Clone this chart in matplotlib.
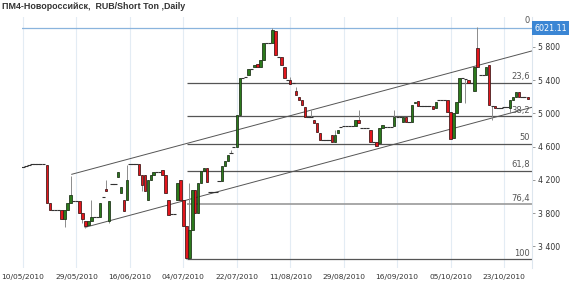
import numpy as np
import matplotlib
matplotlib.use("Agg")
from matplotlib import pyplot as plt
from matplotlib import transforms

# daily candles (RUB/Short Ton)
opens = [4350, 4360, 4375, 4385, 4390, 4390, 4390, 4385, 4380, 3920,
         3840, 3840, 3840, 3840, 3730, 3840, 3920, 3950, 3950, 3950,
         3800, 3700, 3650, 3710, 3750, 3750, 3750, 3990, 4090, 3700,
         4150, 4150, 4230, 4040, 3960, 3960, 4390, 4390, 4390, 4390,
         4260, 4260, 3960, 4200, 4260, 4290, 4290, 4320, 4260, 3960,
         3785, 3785, 3960, 4200, 3960, 3640, 3260, 3600, 4080, 3800,
         4160, 4300, 4340, 4050, 4050, 4050, 4190, 4180, 4360, 4420,
         4520, 4600, 4600, 4980, 5430, 5440, 5460, 5530, 5560, 5590,
         5560, 5640, 5850, 5850, 5850, 5990, 5680, 5680, 5560, 5400,
         5400, 5360, 5270, 5200, 5160, 5080, 4960, 4960, 4920, 4880,
         4760, 4680, 4680, 4680, 4740, 4660, 4760, 4840, 4850, 4850,
         4850, 4850, 4850, 4920, 4820, 4820, 4820, 4800, 4660, 4660,
         4640, 4820, 4840, 4840, 4840, 4850, 4950, 4950, 4900, 4960,
         4900, 4900, 5120, 5150, 5090, 5090, 5090, 5090, 5090, 5060,
         5160, 5160, 5160, 5160, 5010, 4700, 5000, 5140, 5420, 5410,
         5400, 5360, 5270, 5780, 5460, 5460, 5460, 5580, 5090, 5090,
         5060, 5060, 5070, 5070, 5060, 5160, 5200, 5250, 5200, 5200,
         5200]
closes = [4350, 4360, 4375, 4385, 4390, 4390, 4390, 4385, 3920, 3840,
          3840, 3840, 3840, 3730, 3840, 3920, 4020, 3950, 3950, 3800,
          3730, 3640, 3710, 3750, 3750, 3750, 3920, 3990, 4060, 3940,
          4150, 4150, 4290, 4110, 3830, 4200, 4390, 4390, 4390, 4260,
          4140, 4060, 4200, 4260, 4290, 4290, 4290, 4260, 4040, 3780,
          3785, 3785, 4160, 3960, 3640, 3260, 3600, 4080, 3800, 4160,
          4300, 4340, 4170, 4050, 4050, 4050, 4190, 4360, 4420, 4500,
          4520, 4600, 4980, 5430, 5430, 5440, 5530, 5530, 5580, 5560,
          5640, 5850, 5850, 5850, 6000, 5700, 5680, 5580, 5420, 5400,
          5350, 5360, 5220, 5160, 5100, 4950, 4960, 4960, 4880, 4780,
          4680, 4680, 4680, 4680, 4660, 4740, 4800, 4840, 4850, 4850,
          4850, 4850, 4920, 4880, 4820, 4820, 4820, 4660, 4660, 4610,
          4820, 4860, 4840, 4840, 4840, 4960, 4950, 4950, 4960, 4900,
          4900, 5100, 5140, 5090, 5090, 5090, 5090, 5090, 5050, 5140,
          5160, 5160, 5160, 5010, 4690, 5000, 5140, 5420, 5420, 5410,
          5360, 5360, 5560, 5560, 5460, 5460, 5560, 5100, 5090, 5060,
          5060, 5060, 5070, 5070, 5160, 5200, 5250, 5200, 5200, 5200,
          5170]
highs = [4350, 4360, 4375, 4385, 4390, 4390, 4390, 4385, 4380, 3920,
         3840, 3840, 3840, 3840, 3840, 3920, 4250, 3950, 3950, 3950,
         3800, 3700, 3710, 3960, 3750, 3750, 3920, 3990, 4200, 3940,
         4150, 4150, 4290, 4110, 3960, 4380, 4390, 4390, 4390, 4390,
         4260, 4260, 4200, 4260, 4290, 4290, 4290, 4320, 4260, 3960,
         3785, 3785, 4160, 4200, 3960, 3640, 4160, 4080, 4080, 4160,
         4300, 4340, 4340, 4050, 4050, 4050, 4190, 4360, 4420, 4500,
         4560, 4600, 4980, 5430, 5430, 5440, 5530, 5530, 5580, 5590,
         5640, 5850, 5850, 5850, 6021, 5990, 5680, 5680, 5560, 5400,
         5440, 5360, 5320, 5200, 5160, 5080, 4960, 5040, 4920, 4880,
         4760, 4680, 4680, 4680, 4740, 4800, 4800, 4840, 4850, 4850,
         4850, 4850, 4920, 5040, 4820, 4820, 4820, 4800, 4660, 4660,
         4820, 4860, 4840, 4840, 4840, 5040, 4950, 4950, 4960, 4960,
         4900, 5100, 5140, 5150, 5090, 5090, 5090, 5090, 5090, 5140,
         5160, 5160, 5160, 5160, 5010, 5000, 5140, 5420, 5420, 5410,
         5400, 5360, 5560, 6040, 5460, 5460, 5560, 5580, 5090, 5090,
         5060, 5060, 5070, 5070, 5160, 5200, 5250, 5250, 5200, 5200,
         5200]
lows = [4350, 4360, 4375, 4385, 4390, 4390, 4390, 4385, 3920, 3840,
        3840, 3840, 3840, 3730, 3630, 3840, 3920, 3950, 3950, 3800,
        3680, 3620, 3650, 3710, 3750, 3750, 3750, 3990, 4060, 3680,
        4150, 4150, 4230, 4040, 3830, 3960, 4390, 4390, 4390, 4260,
        4060, 4060, 3960, 4200, 4260, 4290, 4290, 4260, 4040, 3780,
        3785, 3785, 3960, 3960, 3640, 3250, 3260, 3600, 3800, 3800,
        4160, 4300, 4170, 4050, 4050, 4050, 4190, 4180, 4360, 4420,
        4520, 4600, 4600, 4980, 5430, 5440, 5460, 5530, 5560, 5560,
        5560, 5640, 5850, 5850, 5850, 5700, 5680, 5580, 5420, 5400,
        5350, 5360, 5220, 5160, 5100, 4950, 4960, 4960, 4880, 4780,
        4680, 4680, 4680, 4680, 4660, 4660, 4760, 4840, 4850, 4850,
        4850, 4850, 4850, 4880, 4820, 4820, 4820, 4660, 4660, 4610,
        4640, 4820, 4840, 4840, 4840, 4850, 4950, 4950, 4900, 4900,
        4900, 4900, 5120, 5090, 5090, 5090, 5090, 5090, 5050, 5060,
        5160, 5160, 5160, 5010, 4690, 4700, 5000, 5140, 5420, 5120,
        5360, 5360, 5270, 5560, 5460, 5460, 5460, 5100, 4920, 5060,
        5060, 5060, 5070, 5070, 5000, 5160, 5200, 5200, 5200, 5200,
        5170]

date_labels = ["10/05/2010", "29/05/2010", "16/06/2010", "04/07/2010", "22/07/2010",
               "11/08/2010", "29/08/2010", "16/09/2010", "05/10/2010", "23/10/2010"]
date_pos = [0, 18, 36, 54, 72, 90, 108, 126, 144, 162]

# trend channel end points (bar index, price)
upper_channel = [(16.4, 4266), (171.4, 5750)]
lower_channel = [(20.9, 3628), (171.4, 5072)]

# fibonacci retracement between the July low and the August high
fib_high = 6021.11
fib_low = 3250
fib_start = 55.2
fib_ratios = [23.6, 38.2, 50, 61.8, 76.4, 100]
fib_labels = ["23,6", "38,2", "50", "61,8", "76,4", "100"]

yticks = [3400, 3800, 4200, 4600, 5000, 5400, 5800]

o = np.array(opens, dtype=float)
c = np.array(closes, dtype=float)
h = np.array(highs, dtype=float)
l = np.array(lows, dtype=float)
x = np.arange(len(o))

fig = plt.figure(figsize=(5.7, 2.86), dpi=100)
ax = fig.add_axes([0.0386, 0.063, 0.8947, 0.8776])
xmax = 171.4
ax.set_xlim(-0.35, xmax)
ax.set_ylim(3139, 6158)

# grid
for p in date_pos:
    ax.axvline(p, color="#e3ecf4", lw=0.8, zorder=0)

# fib levels
for r, lab in zip(fib_ratios, fib_labels):
    lev = fib_high - (fib_high - fib_low) * r / 100
    col = "#9a9a9a" if r == 76.4 else "#555555"
    ax.hlines(lev, fib_start, xmax, color=col, lw=0.9 if r != 76.4 else 1.2, zorder=1)
    ax.text(xmax - 0.7, lev + 15, lab, ha="right", va="bottom", fontsize=6, color="#555555")
ax.axhline(fib_high, color="#8ab4dd", lw=0.9, zorder=1)
ax.text(xmax - 0.7, fib_high + 40, "0", ha="right", va="bottom", fontsize=6, color="#555555")

# channel
for seg in (upper_channel, lower_channel):
    ax.plot([seg[0][0], seg[1][0]], [seg[0][1], seg[1][1]], color="#555555", lw=0.7, zorder=2)

# candles
ax.vlines(x, l, h, color="#8c8c8c", lw=0.7, zorder=3)
up = c > o
dn = c < o
flat = c == o
ax.bar(x[up], (c - o)[up], bottom=o[up], width=0.82, color="#2c7a1c",
       edgecolor="#1a2e14", linewidth=0.55, zorder=4)
ax.bar(x[dn], (c - o)[dn], bottom=o[dn], width=0.82, color="#e3161c",
       edgecolor="#3a1414", linewidth=0.55, zorder=4)
ax.hlines(c[flat], x[flat] - 0.55, x[flat] + 0.55, color="#333333", lw=0.8, zorder=4)

# axes styling
for s in ("top", "left", "bottom"):
    ax.spines[s].set_visible(False)
ax.spines["right"].set_color("#dde6ee")
ax.yaxis.tick_right()
ax.set_yticks(yticks)
ax.set_yticklabels([f"{v:,}".replace(",", " ") for v in yticks])
ax.tick_params(axis="y", length=2.5, width=0.6, color="#888888", pad=1.5,
               labelsize=5.6, labelcolor="#333333")
ax.set_xticks(date_pos)
ax.set_xticklabels(date_labels)
ax.tick_params(axis="x", length=0, pad=4, labelsize=5.4, labelcolor="#333333")

# current price tag
trans = transforms.blended_transform_factory(ax.transAxes, ax.transData)
ax.text(1.004, fib_high, "6021.11", transform=trans, ha="left", va="center",
        fontsize=5.8, color="white",
        bbox=dict(boxstyle="square,pad=0.3", fc="#3b86d4", ec="none"))

fig.text(0.004, 0.992, "ПМ4-Новороссийск,  RUB/Short Ton ,Daily", ha="left", va="top",
         fontsize=6.4, fontweight="bold", color="#333333", family="Liberation Sans")

fig.savefig("out.png", dpi=100)
